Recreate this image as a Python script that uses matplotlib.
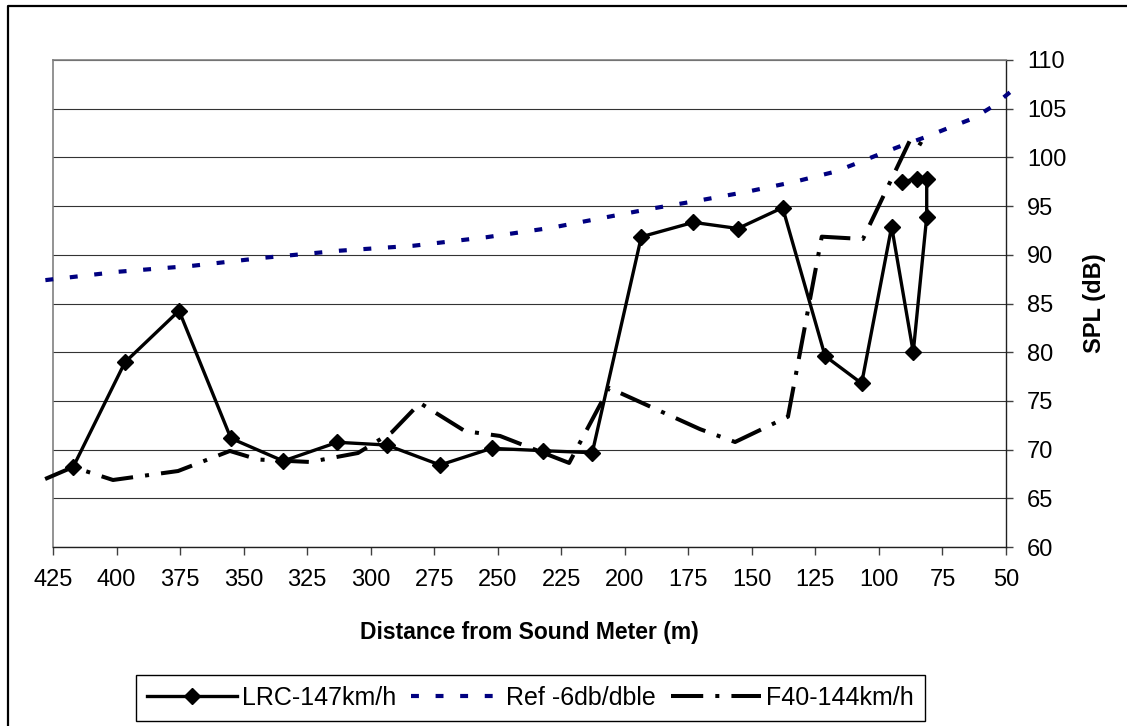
import matplotlib
matplotlib.use('Agg')
import matplotlib.pyplot as plt
from matplotlib.lines import Line2D

plt.rcParams['font.family'] = ['Liberation Sans', 'DejaVu Sans']

# LRC run, in the order the points are joined
lrc_dist = [417.0, 396.7, 375.4, 355.0, 334.4, 313.1, 293.7, 272.7, 252.4, 232.3,
            212.8, 193.5, 173.0, 155.5, 137.9, 121.2, 106.8, 95.0, 86.5, 81.2,
            81.2, 85.1, 91.1]
lrc_spl = [68.25, 78.96, 84.26, 71.16, 68.83, 70.75, 70.47, 68.42, 70.13, 69.89,
           69.68, 91.85, 93.33, 92.7, 94.84, 79.61, 76.8, 92.89, 80.0, 93.9,
           97.8, 97.8, 97.5]

# reference -6 dB per doubling of distance
ref_dist = [428.0, 399.3, 369.8, 341.9, 312.3, 283.2, 254.6, 228.8, 209.5, 190.4,
            171.1, 151.8, 133.0, 117.3, 108.1, 98.9, 90.4, 81.2, 72.0, 62.9,
            55.4, 46.5]
ref_spl = [87.4, 88.26, 88.88, 89.7, 90.42, 90.93, 91.8, 92.78, 93.75, 94.7,
           95.56, 96.48, 97.51, 98.53, 99.46, 100.42, 101.27, 102.13, 103.09, 104.01,
           105.21, 107.1]

# F40 run
f40_dist = [428.1, 417.1, 401.4, 375.8, 355.4, 344.3, 323.9, 305.0, 291.6, 280.6,
            262.9, 249.1, 221.9, 206.2, 170.4, 156.6, 135.8, 122.5, 106.3, 87.4,
            81.2]
f40_spl = [66.98, 68.21, 66.88, 67.8, 69.86, 68.98, 68.73, 69.65, 71.8, 74.78,
           71.9, 71.4, 68.63, 76.33, 72.1, 70.78, 73.38, 91.86, 91.62, 101.96,
           101.04]

W, H = 1127, 726
fig = plt.figure(figsize=(W / 100, H / 100), dpi=100)
ax = fig.add_axes([53 / W, 1 - 547 / H, 953 / W, 487 / H])

p1, = ax.plot(lrc_dist, lrc_spl, color='black', lw=2.4, marker='D', ms=8.5,
              mew=1, zorder=4)
p2, = ax.plot(ref_dist, ref_spl, color='#000080', lw=3, dashes=(1.9, 4.0),
              dash_capstyle='butt', clip_on=False, zorder=3)
p3, = ax.plot(f40_dist, f40_spl, color='black', lw=2.9, dashes=(8, 3, 1, 3),
              dash_capstyle='butt', clip_on=False, zorder=3)

ax.set_xlim(425, 50)
ax.set_ylim(60, 110)
ax.set_xticks(range(50, 426, 25))
ax.set_yticks(range(60, 111, 5))
ax.yaxis.tick_right()
ax.tick_params(axis='x', direction='out', length=6, width=1, pad=10,
               labelsize=17, color='#404040')
ax.tick_params(axis='y', direction='out', length=5, width=1, pad=10,
               labelsize=17, color='#404040')

ax.yaxis.grid(True, color='#333333', lw=0.8)
ax.set_axisbelow(True)
for side in ['left', 'top']:
    ax.spines[side].set_color('#808080')
    ax.spines[side].set_linewidth(1.2)
for side in ['right', 'bottom']:
    ax.spines[side].set_color('#202020')
    ax.spines[side].set_linewidth(1.0)

fig.text(529.5 / W, 1 - 632 / H, 'Distance from Sound Meter (m)', ha='center',
         va='center', fontsize=16.5, fontweight='bold')
fig.text(1094 / W, 1 - 303 / H, 'SPL (dB)', rotation=90, ha='center',
         va='center', fontsize=17, fontweight='bold')

leg = fig.legend([p1, p2, p3], ['LRC-147km/h', 'Ref -6db/dble', 'F40-144km/h'],
                 loc='center', bbox_to_anchor=(530.5 / W, 1 - 698 / H), ncol=3,
                 fontsize=18, handlelength=3.6, handletextpad=0.2,
                 columnspacing=0.6, borderpad=0.45, borderaxespad=0,
                 fancybox=False, framealpha=1, edgecolor='black')
leg.get_frame().set_linewidth(1.0)

# outer chart border (only the top and left edges are in frame)
fig.add_artist(Line2D([8 / W, 8 / W, 1.01], [-0.01, 1 - 6 / H, 1 - 6 / H],
                      transform=fig.transFigure, color='black', lw=1.6))

fig.savefig('out.png', dpi=100)
